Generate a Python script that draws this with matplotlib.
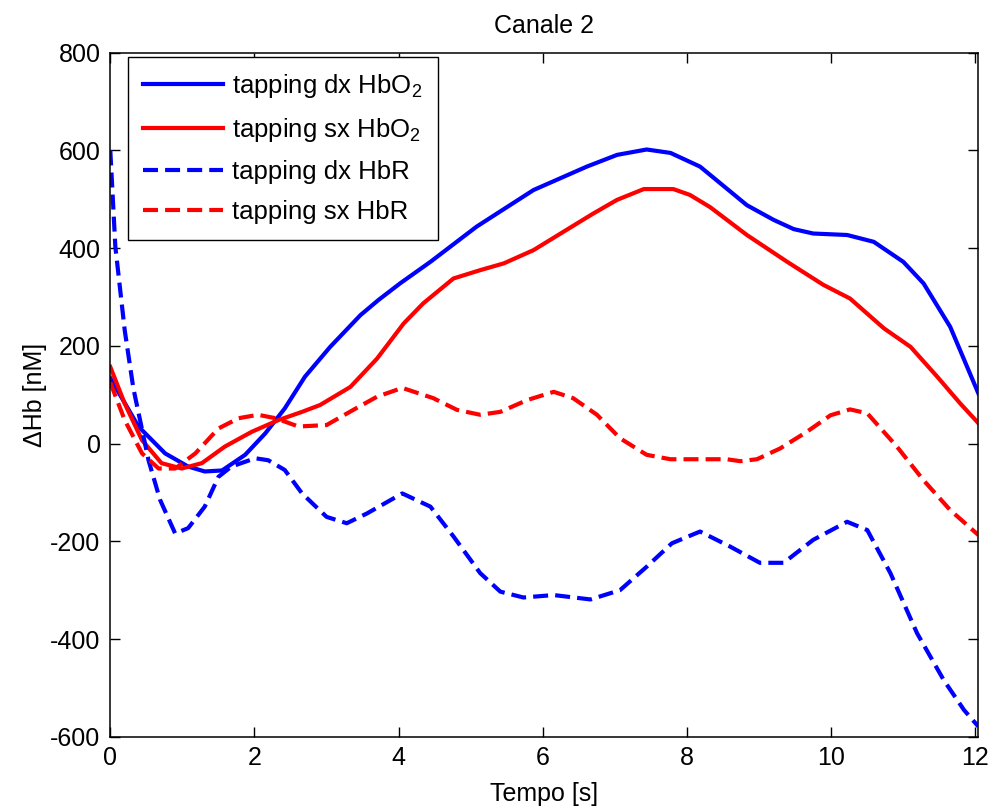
import matplotlib
matplotlib.use("Agg")
import matplotlib.pyplot as plt

plt.rcParams['font.family'] = ['Liberation Sans', 'DejaVu Sans']
plt.rcParams['mathtext.fontset'] = 'custom'
plt.rcParams['mathtext.rm'] = 'Liberation Sans'
plt.rcParams['mathtext.it'] = 'Liberation Sans'
plt.rcParams['axes.unicode_minus'] = False
plt.rcParams['font.size'] = 18

# tapping dx HbO2 (blue solid)
dx_hbo2_t = [0.0, 0.39, 0.76, 1.08, 1.31, 1.55, 1.87, 2.15, 2.42, 2.70, 3.05, 3.47, 3.72,
             4.02, 4.44, 5.08, 5.87, 6.61, 7.03, 7.44, 7.77, 8.18, 8.46, 8.83, 9.20,
             9.48, 9.75, 10.22, 10.59, 11.00, 11.28, 11.65, 12.04]
dx_hbo2 = [134, 35, -20, -47, -57, -55, -23, 21, 72, 137, 198, 263, 294,
           328, 372, 444, 519, 567, 591, 602, 595, 567, 533, 488, 458,
           439, 430, 427, 413, 372, 328, 239, 103]

# tapping sx HbO2 (red solid)
sx_hbo2_t = [0.0, 0.20, 0.44, 0.71, 0.99, 1.27, 1.59, 1.96, 2.33, 2.66, 2.91, 3.33, 3.70,
             4.07, 4.34, 4.76, 5.13, 5.46, 5.87, 6.29, 6.70, 7.03, 7.40, 7.81, 8.04,
             8.32, 8.83, 9.39, 9.89, 10.26, 10.73, 11.10, 11.47, 11.79, 12.04]
sx_hbo2 = [157, 82, 7, -40, -51, -40, -6, 24, 48, 65, 79, 116, 174,
           246, 287, 338, 355, 369, 396, 434, 471, 499, 521, 521, 509,
           484, 427, 372, 325, 297, 236, 198, 137, 82, 42]

# tapping dx HbR (blue dashed)
dx_hbr_t = [0.0, 0.07, 0.20, 0.32, 0.53, 0.69, 0.90, 1.08, 1.31, 1.50, 1.68, 2.01,
            2.19, 2.42, 2.66, 3.00, 3.28, 3.56, 4.05, 4.44, 4.76, 5.13, 5.41, 5.73, 6.15,
            6.66, 7.07, 7.44, 7.79, 8.18, 8.60, 9.01, 9.34, 9.75, 10.22, 10.50, 10.82,
            11.19, 11.56, 11.84, 12.04]
dx_hbr = [600, 403, 232, 113, -34, -115, -184, -173, -129, -68, -47, -30,
          -34, -54, -102, -150, -163, -143, -102, -129, -190, -265, -303, -315, -310,
          -319, -300, -252, -204, -180, -211, -244, -244, -197, -160, -177, -265,
          -388, -484, -545, -579]

# tapping sx HbR (red dashed)
sx_hbr_t = [0.0, 0.20, 0.44, 0.67, 0.90, 1.18, 1.50, 1.78, 2.05, 2.29, 2.61,
            3.00, 3.37, 3.70, 4.05, 4.48, 4.81, 5.13, 5.41, 5.78, 6.15, 6.42, 6.75,
            7.07, 7.44, 7.77, 8.55, 8.74, 8.97, 9.29, 9.66, 9.99, 10.26, 10.50, 10.91,
            11.28, 11.65, 12.04]
sx_hbr = [125, 48, -20, -51, -51, -20, 31, 52, 59, 52, 35,
          38, 69, 96, 114, 93, 69, 59, 65, 89, 106, 93, 59,
          11, -23, -32, -32, -36, -32, -10, 24, 58, 70, 62, -6,
          -75, -136, -187]

x_ticks = [0, 2, 4, 6, 8, 10, 12]
y_ticks = [-600, -400, -200, 0, 200, 400, 600, 800]

fig = plt.figure(figsize=(9.91, 8.08), dpi=100)
ax = fig.add_axes([0.1113, 0.0882, 0.8759, 0.8465])

lw = 3
dash = (3.6, 1.7)
ax.plot(dx_hbo2_t, dx_hbo2, color='#0000ff', lw=lw, label='tapping dx HbO$_2$')
ax.plot(sx_hbo2_t, sx_hbo2, color='#ff0000', lw=lw, label='tapping sx HbO$_2$')
ax.plot(dx_hbr_t, dx_hbr, color='#0000ff', lw=lw, ls=(0, dash), label='tapping dx HbR')
ax.plot(sx_hbr_t, sx_hbr, color='#ff0000', lw=lw, ls=(0, dash), label='tapping sx HbR')

ax.set_xlim(0, 12.04)
ax.set_ylim(-600, 800)
ax.set_xticks(x_ticks)
ax.set_yticks(y_ticks)
ax.tick_params(direction='in', length=7, width=1, top=True, right=True,
               labelsize=18, pad=7, colors='black')
for s in ax.spines.values():
    s.set_linewidth(1.1)

ax.set_title('Canale 2', fontsize=18, pad=14)
ax.set_xlabel('Tempo [s]', fontsize=18, labelpad=8)
ax.set_ylabel('ΔHb [nM]', fontsize=18, labelpad=2)

leg = ax.legend(loc='upper left', bbox_to_anchor=(0.0204, 0.9937), borderaxespad=0,
                fancybox=False, framealpha=1, edgecolor='black', fontsize=18.5,
                handlelength=3.1, handletextpad=0.36, borderpad=0.6,
                labelspacing=0.62)
leg.get_frame().set_linewidth(1.0)

fig.savefig('out.png', dpi=100)
